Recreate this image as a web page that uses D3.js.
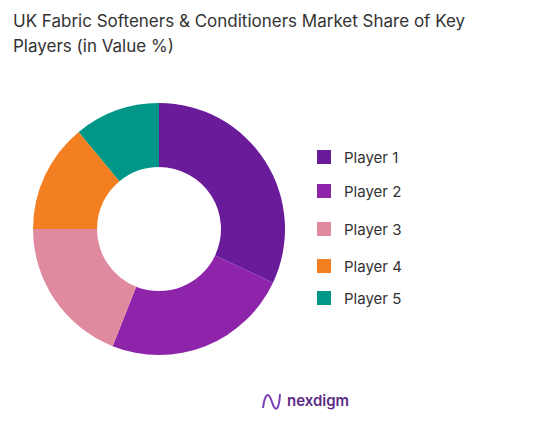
<!DOCTYPE html>
<html><head><meta charset="utf-8">
<script src="https://cdn.jsdelivr.net/npm/d3@7"></script>
<style>body{margin:0;background:#fff;font-family:Inter,"Noto Sans",sans-serif;}</style>
</head><body>
<svg id="chart" width="555" height="431"></svg>
<script>
var players = ["Player 1","Player 2","Player 3","Player 4","Player 5"];
var shares  = [32, 24, 19, 14, 11];
var colors  = ["#6a1b9a","#8e24aa","#e08aa0","#f47f20","#009688"];
var legendY = [157, 191, 229, 266, 298];

var svg = d3.select("#chart");

svg.append("text").attr("x",13).attr("y",27).attr("font-size",17).attr("fill","#333")
  .text("UK  Fabric Softeners & Conditioners  Market Share of Key");
svg.append("text").attr("x",13).attr("y",52).attr("font-size",17).attr("fill","#333")
  .text("Players (in Value %)");

var pie = d3.pie().sort(null).value(function(d){ return d; });
var arc = d3.arc().innerRadius(62).outerRadius(126);
var color = d3.scaleOrdinal().domain(players).range(colors);

svg.append("g").attr("transform","translate(159,229)")
  .selectAll("path").data(pie(shares)).enter().append("path")
  .attr("d", arc)
  .attr("fill", function(d,i){ return color(players[i]); });

var leg = svg.append("g").selectAll("g").data(players).enter().append("g")
  .attr("transform", function(d,i){ return "translate(317," + legendY[i] + ")"; });
leg.append("rect").attr("x",0).attr("y",-7).attr("width",14).attr("height",14)
  .attr("fill", function(d){ return color(d); });
leg.append("text").attr("x",27).attr("y",5.5).attr("font-size",15).attr("fill","#333")
  .text(function(d){ return d; });

// logo
var logo = svg.append("g").attr("transform","translate(263,400)");
logo.append("path").attr("d","M0,8 C2,-8 6,-8 9,2 C12,12 16,12 17,-6")
  .attr("fill","none").attr("stroke","#7b3fb5").attr("stroke-width",2);
logo.append("text").attr("x",24).attr("y",6).attr("font-size",15).attr("font-weight",600)
  .attr("fill","#5b2a86").text("nexdigm");
</script>
</body></html>
